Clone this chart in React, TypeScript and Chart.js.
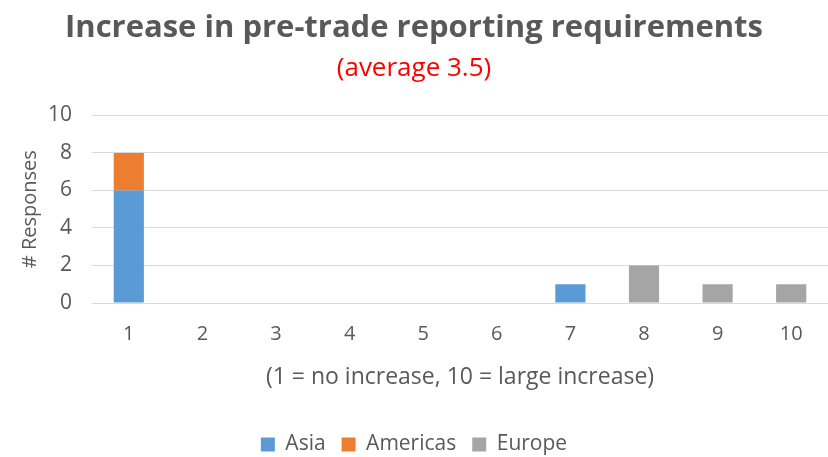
import React, { useEffect, useRef } from "react";
import { Chart, registerables } from "chart.js";

Chart.register(...registerables);

const categories = ["1", "2", "3", "4", "5", "6", "7", "8", "9", "10"];
const asia = [6, 0, 0, 0, 0, 0, 1, 0, 0, 0];
const americas = [2, 0, 0, 0, 0, 0, 0, 0, 0, 0];
const europe = [0, 0, 0, 0, 0, 0, 0, 2, 1, 1];

const FONT = "'Open Sans', 'Liberation Sans', sans-serif";
const GRAY = "#595959";

export default function App() {
  const ref = useRef<HTMLCanvasElement | null>(null);
  useEffect(() => {
    if (!ref.current) return;
    const chart = new Chart(ref.current, {
      type: "bar",
      data: {
        labels: categories,
        datasets: [
          { label: "Asia", data: asia, backgroundColor: "#5b9bd5" },
          { label: "Americas", data: americas, backgroundColor: "#ed7d31" },
          { label: "Europe", data: europe, backgroundColor: "#a5a5a5" },
        ],
      },
      options: {
        animation: false,
        responsive: false,
        maintainAspectRatio: false,
        layout: { padding: { left: 0, right: 0, top: 10, bottom: -8 } },
        datasets: { bar: { categoryPercentage: 1, barPercentage: 0.41 } },
        plugins: {
          title: {
            display: true,
            text: "Increase in pre-trade reporting requirements",
            color: GRAY,
            font: { family: FONT, size: 31, weight: "bold" },
            padding: { top: 0, bottom: 2 },
          },
          subtitle: {
            display: true,
            text: "(average 3.5)",
            color: "#ff0000",
            font: { family: FONT, size: 26 },
            padding: { top: 4, bottom: 31 },
          },
          legend: {
            position: "bottom",
            labels: {
              color: GRAY,
              font: { family: FONT, size: 21 },
              boxWidth: 14,
              boxHeight: 14,
              padding: 16,
            },
          },
          tooltip: { enabled: false },
        },
        scales: {
          x: {
            stacked: true,
            grid: { display: false, drawTicks: false },
            border: { color: "#d9d9d9" },
            ticks: { color: GRAY, font: { family: FONT, size: 20 }, padding: 19 },
            title: {
              display: true,
              text: "(1 = no increase, 10 = large increase)",
              color: GRAY,
              font: { family: FONT, size: 23 },
              padding: { top: 10, bottom: 27 },
            },
            afterFit: (scale: any) => {
              scale.height = 115;
            },
          },
          y: {
            stacked: true,
            min: 0,
            max: 10,
            ticks: { stepSize: 2, color: GRAY, font: { family: FONT, size: 21 }, padding: 20 },
            grid: { color: "#d9d9d9", drawTicks: false },
            border: { display: false },
            title: {
              display: true,
              text: "# Responses",
              color: GRAY,
              font: { family: FONT, size: 20 },
              padding: { top: 18, bottom: 0 },
            },
            afterFit: (scale: any) => {
              scale.width = 92;
            },
          },
        },
      },
    });
    return () => chart.destroy();
  }, []);
  return (
    <div style={{ position: "fixed", left: 0, top: 0, width: 828, height: 457, background: "#fff" }}>
      <canvas ref={ref} width={828} height={457} />
    </div>
  );
}
